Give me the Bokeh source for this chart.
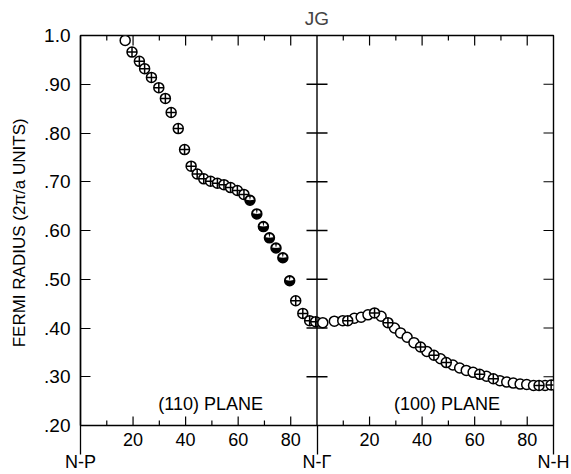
import numpy as np
from bokeh.plotting import figure
from bokeh.models import ColumnDataSource, FixedTicker, Span
from bokeh.transform import dodge
from bokeh.core.properties import value
from bokeh.embed import file_html
from bokeh.resources import INLINE

# ---------------- data ----------------
# (110) plane, angle from N-P (deg)
left_open_angle = [17.0]
left_open_radius = [0.990]
left_cross_angle = [19.6, 22.4, 24.4, 27.0, 29.8, 32.3, 34.5, 37.2, 39.6, 42.1, 44.4, 46.9,
                    49.5, 52.1, 54.6, 57.1, 59.7, 62.2, 81.9, 84.6, 87.2, 89.5]
left_cross_radius = [0.966, 0.947, 0.932, 0.914, 0.893, 0.871, 0.842, 0.809, 0.766, 0.732, 0.716, 0.706,
                     0.701, 0.697, 0.694, 0.688, 0.682, 0.674, 0.456, 0.430, 0.415, 0.413]
left_half_angle = [64.5, 67.1, 69.6, 71.9, 74.4, 77.0, 79.6]
left_half_radius = [0.662, 0.634, 0.608, 0.585, 0.564, 0.544, 0.497]

# (100) plane, angle from N-Gamma (deg)
right_open_angle = [2.2, 6.6, 9.8, 14.2, 16.8, 19.4, 24.4, 29.5, 31.8, 34.3, 36.9, 41.8, 47.0,
                    51.7, 54.3, 56.8, 59.4, 64.5, 69.6, 72.2, 74.7, 77.3, 79.8, 82.4, 86.8]
right_open_radius = [0.411, 0.414, 0.415, 0.420, 0.422, 0.427, 0.424, 0.400, 0.390, 0.381, 0.370, 0.352, 0.337,
                     0.324, 0.318, 0.313, 0.309, 0.301, 0.292, 0.289, 0.287, 0.285, 0.284, 0.282, 0.282]
right_cross_angle = [11.7, 21.9, 27.0, 39.4, 44.5, 49.2, 61.9, 67.1, 84.5, 89.1]
right_cross_radius = [0.415, 0.431, 0.411, 0.361, 0.344, 0.329, 0.305, 0.296, 0.282, 0.283]

panel_span = 90  # each panel covers 0..90 degrees
x_major = [20, 40, 60, 80, 110, 130, 150, 170]
x_major_labels = ["20", "40", "60", "80", "20", "40", "60", "80"]
x_minor = [10, 30, 50, 70, 100, 120, 140, 160]
y_ticks = [0.2, 0.3, 0.4, 0.5, 0.6, 0.7, 0.8, 0.9, 1.0]
y_tick_labels = [".20", ".30", ".40", ".50", ".60", ".70", ".80", ".90", "1.0"]
end_labels = ["N-P", "N-\u0393", "N-H"]
end_positions = [0, 90, 180]

FONT = "Liberation Sans"
X0, X1 = 0, 180
Y0, Y1 = 0.2, 1.0

p = figure(width=571, height=474, x_range=(X0, X1), y_range=(Y0, Y1),
           output_backend="svg", toolbar_location=None,
           min_border_left=80, min_border_right=18, min_border_top=35, min_border_bottom=49,
           background_fill_color="white", border_fill_color="white")
p.xgrid.visible = False
p.ygrid.visible = False
p.outline_line_color = "black"
p.outline_line_width = 1.4

p.title.text = "JG"
p.title.align = "center"
p.title.vertical_align = "top"
p.title.offset = -5
p.title.text_font = FONT
p.title.text_font_size = "19px"
p.title.text_font_style = "normal"

# left axis
ya = p.yaxis[0]
ya.ticker = FixedTicker(ticks=y_ticks)
ya.major_label_overrides = {t: l for t, l in zip(y_ticks, y_tick_labels)}
ya.major_tick_in = 10
ya.major_tick_out = 0
ya.minor_tick_line_color = None
ya.major_label_standoff = 10
ya.major_label_text_font = FONT
ya.major_label_text_font_size = "19px"
ya.major_label_text_color = "black"
ya.axis_label = "FERMI RADIUS  (2\u03c0/a UNITS)"
ya.axis_label_text_font = FONT
ya.axis_label_text_font_style = "normal"
ya.axis_label_text_font_size = "17px"
ya.axis_label_text_color = "black"
ya.axis_label_standoff = 12
ya.axis_line_width = 1.4

# bottom axis: numbers plus the direction labels (second line); the
# minor ticks at the panel ends make the upward pointers below the axis
xa = p.xaxis[0]
bottom_ticks = sorted(x_major + end_positions)
labels = {t: l for t, l in zip(x_major, x_major_labels)}
labels.update({t: "\n" + l for t, l in zip(end_positions, end_labels)})
xa.ticker = FixedTicker(ticks=bottom_ticks, minor_ticks=end_positions)
xa.major_label_overrides = labels
xa.major_tick_line_color = None
xa.major_tick_in = 0
xa.major_tick_out = 0
xa.minor_tick_in = 0
xa.minor_tick_out = 29
xa.minor_tick_line_width = 1.3
xa.minor_tick_line_color = "black"
xa.axis_line_color = None
xa.major_label_standoff = -25
xa.major_label_text_font = FONT
xa.major_label_text_font_size = "18px"
xa.major_label_text_line_height = 1.1
xa.major_label_text_color = "black"

# inward tick marks on bottom, top, right and the middle divider
# (dash markers centred on the frame edge; the frame clips the outer half)
TK = "black"
p.scatter(x=x_major, y=[Y0] * len(x_major), marker="dash", angle=np.pi / 2, size=18, line_color=TK, line_width=1.2)
p.scatter(x=x_minor, y=[Y0] * len(x_minor), marker="dash", angle=np.pi / 2, size=10, line_color=TK, line_width=1.2)
p.scatter(x=x_major, y=[Y1] * len(x_major), marker="dash", angle=np.pi / 2, size=20, line_color=TK, line_width=1.2)
p.scatter(x=x_minor, y=[Y1] * len(x_minor), marker="dash", angle=np.pi / 2, size=10, line_color=TK, line_width=1.2)
p.scatter(x=[X1] * len(y_ticks), y=y_ticks, marker="dash", size=20, line_color=TK, line_width=1.2)
p.add_layout(Span(location=panel_span, dimension="height", line_color="black", line_width=1.4))
p.scatter(x=[panel_span] * (len(y_ticks) - 2), y=y_ticks[1:-1], marker="dash", size=21,
          line_color=TK, line_width=1.3)

# data sources
src_lo = ColumnDataSource(dict(x=left_open_angle, y=left_open_radius))
src_lc = ColumnDataSource(dict(x=left_cross_angle, y=left_cross_radius))
src_lh = ColumnDataSource(dict(x=left_half_angle, y=left_half_radius))
src_ro = ColumnDataSource(dict(x=right_open_angle, y=right_open_radius))
src_rc = ColumnDataSource(dict(x=right_cross_angle, y=right_cross_radius))

MS = 10
LW = 1.5
p.scatter(x="x", y="y", source=src_lo, marker="circle", size=MS, fill_color="white",
          line_color="black", line_width=LW)
p.scatter(x="x", y="y", source=src_lc, marker="circle_cross", size=MS, fill_color="white",
          line_color="black", line_width=LW)
p.scatter(x="x", y="y", source=src_lh, marker="circle", size=MS, fill_color="black",
          line_color="black", line_width=LW)
p.wedge(x="x", y="y", source=src_lh, radius=3.9, radius_units="screen",
        start_angle=0.05 * np.pi, end_angle=0.43 * np.pi, fill_color="white", line_color=None)
p.wedge(x="x", y="y", source=src_lh, radius=3.9, radius_units="screen",
        start_angle=0.57 * np.pi, end_angle=0.95 * np.pi, fill_color="white", line_color=None)

p.scatter(x=dodge("x", panel_span, range=p.x_range), y="y", source=src_ro, marker="circle",
          size=MS, fill_color="white", line_color="black", line_width=LW)
p.scatter(x=dodge("x", panel_span, range=p.x_range), y="y", source=src_rc, marker="circle_cross",
          size=MS, fill_color="white", line_color="black", line_width=LW)

# plane labels
p.text(x=[49.5, 139.5], y=[0.245, 0.245], text=["(110) PLANE", "(100) PLANE"],
       text_align="center", text_baseline="middle", text_font=value(FONT),
       text_font_size="18px", text_color="black")

open("out.html", "w").write(file_html(p, INLINE))
